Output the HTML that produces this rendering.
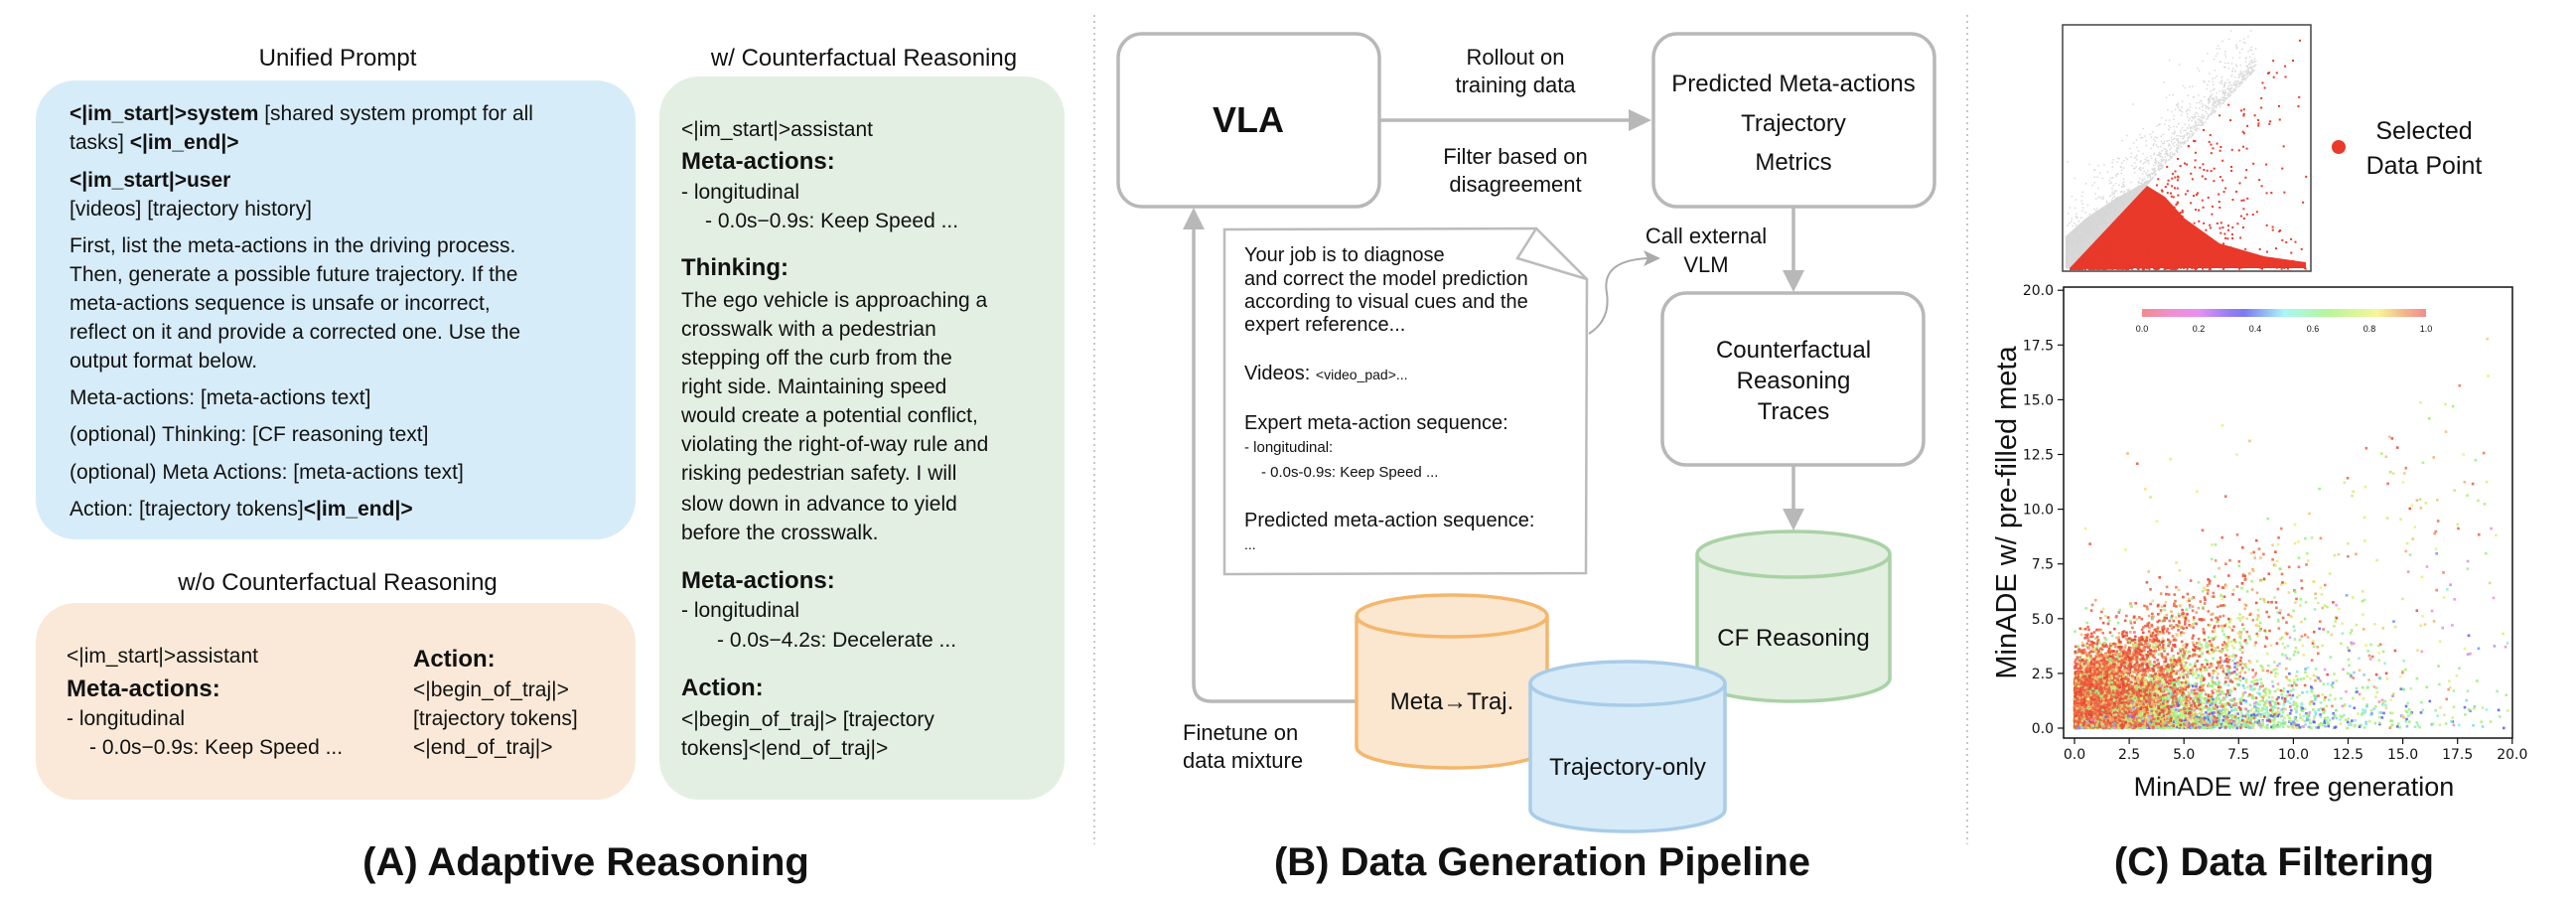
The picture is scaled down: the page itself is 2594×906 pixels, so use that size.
<!DOCTYPE html>
<html><head><meta charset="utf-8"><style>
html,body{margin:0;padding:0;background:#fff;width:2594px;height:906px;overflow:hidden}
svg{display:block}
text{font-family:"Liberation Sans",sans-serif;fill:#111}
.a{font-size:21px}
.b{font-weight:bold}
.h{font-size:24px;font-weight:bold}
.t{font-size:22px}
.d{font-size:20px}
.tk{font-family:"DejaVu Sans",sans-serif;font-size:14px}
</style></head><body>
<svg id="s" width="2594" height="906" viewBox="0 0 2594 906" xmlns="http://www.w3.org/2000/svg">
<defs>
<linearGradient id="cb" x1="0" x2="1">
<stop offset="0" stop-color="#f28c8c"/><stop offset="0.1" stop-color="#f08fcf"/><stop offset="0.2" stop-color="#e690f2"/>
<stop offset="0.3" stop-color="#9a80f4"/><stop offset="0.36" stop-color="#7c78f2"/><stop offset="0.5" stop-color="#a8f6f6"/>
<stop offset="0.65" stop-color="#b6f59a"/><stop offset="0.83" stop-color="#f6f69a"/><stop offset="0.92" stop-color="#f4b88c"/>
<stop offset="1" stop-color="#f28c8c"/></linearGradient>
</defs>

<!-- Panel A -->
<text x="340" y="66" text-anchor="middle" style="font-size:24px">Unified Prompt</text>
<rect x="36" y="81" width="604" height="462" rx="40" fill="#d7ecf9"/>
<g class="a">
<text x="70" y="121"><tspan class="b">&lt;|im_start|&gt;system</tspan> [shared system prompt for all</text>
<text x="70" y="150">tasks] <tspan class="b">&lt;|im_end|&gt;</tspan></text>
<text x="70" y="188" class="b">&lt;|im_start|&gt;user</text>
<text x="70" y="217">[videos] [trajectory history]</text>
<text x="70" y="254">First, list the meta-actions in the driving process.</text>
<text x="70" y="283">Then, generate a possible future trajectory. If the</text>
<text x="70" y="312">meta-actions sequence is unsafe or incorrect,</text>
<text x="70" y="341">reflect on it and provide a corrected one. Use the</text>
<text x="70" y="370">output format below.</text>
<text x="70" y="407">Meta-actions: [meta-actions text]</text>
<text x="70" y="444">(optional) Thinking: [CF reasoning text]</text>
<text x="70" y="482">(optional) Meta Actions: [meta-actions text]</text>
<text x="70" y="519">Action: [trajectory tokens]<tspan class="b">&lt;|im_end|&gt;</tspan></text>
</g>
<text x="340" y="594" text-anchor="middle" style="font-size:24px">w/o Counterfactual Reasoning</text>
<rect x="36" y="607" width="604" height="198" rx="40" fill="#fae9d8"/>
<g class="a">
<text x="67" y="667">&lt;|im_start|&gt;assistant</text>
<text x="67" y="701" class="h">Meta-actions:</text>
<text x="67" y="730">- longitudinal</text>
<text x="90" y="759">- 0.0s−0.9s: Keep Speed ...</text>
<text x="416" y="671" class="h">Action:</text>
<text x="416" y="701">&lt;|begin_of_traj|&gt;</text>
<text x="416" y="730">[trajectory tokens]</text>
<text x="416" y="759">&lt;|end_of_traj|&gt;</text>
</g>
<text x="870" y="66" text-anchor="middle" style="font-size:24px">w/ Counterfactual Reasoning</text>
<rect x="664" y="77" width="408" height="728" rx="40" fill="#e4efe3"/>
<g class="a">
<text x="686" y="137">&lt;|im_start|&gt;assistant</text>
<text x="686" y="170" class="h">Meta-actions:</text>
<text x="686" y="200">- longitudinal</text>
<text x="710" y="229">- 0.0s−0.9s: Keep Speed ...</text>
<text x="686" y="277" class="h">Thinking:</text>
<text x="686" y="309">The ego vehicle is approaching a</text>
<text x="686" y="338">crosswalk with a pedestrian</text>
<text x="686" y="367">stepping off the curb from the</text>
<text x="686" y="396">right side. Maintaining speed</text>
<text x="686" y="425">would create a potential conflict,</text>
<text x="686" y="454">violating the right-of-way rule and</text>
<text x="686" y="483">risking pedestrian safety. I will</text>
<text x="686" y="514">slow down in advance to yield</text>
<text x="686" y="543">before the crosswalk.</text>
<text x="686" y="592" class="h">Meta-actions:</text>
<text x="686" y="621">- longitudinal</text>
<text x="722" y="651">- 0.0s−4.2s: Decelerate ...</text>
<text x="686" y="700" class="h">Action:</text>
<text x="686" y="731">&lt;|begin_of_traj|&gt; [trajectory</text>
<text x="686" y="760">tokens]&lt;|end_of_traj|&gt;</text>
</g>
<text x="590" y="881" text-anchor="middle" style="font-size:40px;font-weight:bold">(A) Adaptive Reasoning</text>

<line x1="1102" y1="15" x2="1102" y2="850" stroke="#c8c8c8" stroke-width="2" stroke-dasharray="2,4"/>
<line x1="1981" y1="15" x2="1981" y2="850" stroke="#c8c8c8" stroke-width="2" stroke-dasharray="2,4"/>

<!-- Panel B -->
<g fill="none" stroke="#b8b8b8" stroke-width="3.5">
<rect x="1126" y="34" width="263" height="174" rx="24" fill="#fff"/>
<rect x="1665" y="34" width="283" height="174" rx="24" fill="#fff"/>
<rect x="1674" y="295" width="263" height="173" rx="24" fill="#fff"/>
<line x1="1389" y1="121" x2="1650" y2="121"/>
<line x1="1806" y1="208" x2="1806" y2="280"/>
<line x1="1806" y1="468" x2="1806" y2="518"/>
<path d="M1366,706 H1220 Q1202,706 1202,688 V225"/>
</g>
<g fill="#b8b8b8">
<polygon points="1663,121 1640,110 1640,132"/>
<polygon points="1806,294 1795,272 1817,272"/>
<polygon points="1806,534 1795,512 1817,512"/>
<polygon points="1202,209 1191,231 1213,231"/>
</g>
<text x="1257" y="133" text-anchor="middle" style="font-size:36px;font-weight:bold">VLA</text>
<g style="font-size:24px" text-anchor="middle">
<text x="1806" y="92">Predicted Meta-actions</text>
<text x="1806" y="132">Trajectory</text>
<text x="1806" y="171">Metrics</text>
<text x="1806" y="360">Counterfactual</text>
<text x="1806" y="391">Reasoning</text>
<text x="1806" y="422">Traces</text>
</g>
<g class="t" text-anchor="middle">
<text x="1526" y="65">Rollout on</text>
<text x="1526" y="93">training data</text>
<text x="1526" y="165">Filter based on</text>
<text x="1526" y="193">disagreement</text>
<text x="1718" y="245">Call external</text>
<text x="1718" y="274">VLM</text>
</g>
<g class="t"><text x="1191" y="745">Finetune on</text><text x="1191" y="773">data mixture</text></g>

<!-- document -->
<path d="M1233,231 L1547,230 L1598,281 L1597,577 L1233,578 Z" fill="#fff" stroke="#bbb" stroke-width="2.5"/>
<path d="M1547,230 L1528,260 L1598,281" fill="none" stroke="#bbb" stroke-width="2.5"/>
<path d="M1600,336 Q1622,322 1618,295 Q1612,262 1660,260" fill="none" stroke="#aaa" stroke-width="2"/>
<polygon points="1672,260 1655,252 1659,260 1655,268" fill="#aaa"/>
<g class="d">
<text x="1253" y="263">Your job is to diagnose</text>
<text x="1253" y="287">and correct the model prediction</text>
<text x="1253" y="310">according to visual cues and the</text>
<text x="1253" y="333">expert reference...</text>
<text x="1253" y="382">Videos: <tspan style="font-size:14px">&lt;video_pad&gt;...</tspan></text>
<text x="1253" y="432">Expert meta-action sequence:</text>
<text x="1253" y="455" style="font-size:15px">- longitudinal:</text>
<text x="1270" y="480" style="font-size:15px">- 0.0s-0.9s: Keep Speed ...</text>
<text x="1253" y="530">Predicted meta-action sequence:</text>
<text x="1253" y="553" style="font-size:14px">...</text>
</g>

<!-- cylinders -->
<g stroke-width="3.5">
<path d="M1709,558 V683 A97,23 0 0 0 1903,683 V558" fill="#e3efe0" stroke="#a9d2a6"/>
<ellipse cx="1806" cy="558" rx="97" ry="23" fill="#e3efe0" stroke="#a9d2a6"/>
<path d="M1366,620 V752 A96,21 0 0 0 1558,752 V620" fill="#fbe6cf" stroke="#f3b76c"/>
<ellipse cx="1462" cy="620" rx="96" ry="21" fill="#fbe6cf" stroke="#f3b76c"/>
<path d="M1541,688 V815 A98,22 0 0 0 1737,815 V688" fill="#d6eaf8" stroke="#a9cce8"/>
<ellipse cx="1639" cy="688" rx="98" ry="22" fill="#d6eaf8" stroke="#a9cce8"/>
</g>
<g style="font-size:24px" text-anchor="middle">
<text x="1806" y="650">CF Reasoning</text>
<text x="1462" y="714">Meta→Traj.</text>
<text x="1639" y="780">Trajectory-only</text>
</g>
<text x="1553" y="881" text-anchor="middle" style="font-size:40px;font-weight:bold">(B) Data Generation Pipeline</text>

<!-- Panel C -->
<rect x="2077" y="25" width="250" height="248" fill="#fff" stroke="#444" stroke-width="1.5"/>
<g id="top"></g>
<circle cx="2355" cy="148" r="7" fill="#e8392b"/>
<g style="font-size:25px" text-anchor="middle"><text x="2441" y="140">Selected</text><text x="2441" y="175">Data Point</text></g>

<g id="main"></g>
<rect x="2078" y="289" width="452" height="454" fill="none" stroke="#111" stroke-width="1.5"/>
<rect x="2157" y="311" width="286" height="8" fill="url(#cb)"/>
<g class="tk" style="font-size:9px" text-anchor="middle" fill="#333">
<text x="2157" y="334">0.0</text><text x="2214" y="334">0.2</text><text x="2271" y="334">0.4</text><text x="2329" y="334">0.6</text><text x="2386" y="334">0.8</text><text x="2443" y="334">1.0</text>
</g>
<g id="ticks"></g>
<text x="2310" y="801" text-anchor="middle" style="font-size:27px">MinADE w/ free generation</text>
<text transform="translate(2030,516) rotate(-90)" text-anchor="middle" style="font-size:29px">MinADE w/ pre-filled meta</text>
<text x="2290" y="881" text-anchor="middle" style="font-size:40px;font-weight:bold">(C) Data Filtering</text>
</svg>
<script>
(function(){
var NS="http://www.w3.org/2000/svg";
var seed=12345;function r(){seed=(seed*1103515245+12345)%2147483648;return seed/2147483648;}
function ex(m){return -Math.log(1-r()*0.9999)*m;}
function el(g,t,a){var e=document.createElementNS(NS,t);for(var k in a)e.setAttribute(k,a[k]);g.appendChild(e);return e;}
var stops=[[0,[242,140,140]],[0.1,[240,143,207]],[0.2,[230,144,242]],[0.3,[154,128,244]],[0.36,[90,90,240]],[0.5,[140,240,240]],[0.62,[150,240,110]],[0.8,[240,240,120]],[0.9,[245,170,110]],[1,[232,60,45]]];
function cm(v){for(var i=1;i<stops.length;i++){if(v<=stops[i][0]){var a=stops[i-1],b=stops[i],t=(v-a[0])/(b[0]-a[0]);return "rgb("+[0,1,2].map(function(j){return Math.round(a[1][j]+(b[1][j]-a[1][j])*t)}).join(",")+")";}}return "rgb(232,60,45)";}
var tk=document.getElementById("ticks");
var labs=["0.0","2.5","5.0","7.5","10.0","12.5","15.0","17.5","20.0"];
for(var i=0;i<9;i++){var y=733-i*55.1,x=2089+i*55.1;
el(tk,"line",{x1:2072,y1:y,x2:2078,y2:y,stroke:"#111","stroke-width":1.2});
var t=el(tk,"text",{x:2068,y:y+5,"text-anchor":"end","class":"tk"});t.textContent=labs[i];
el(tk,"line",{x1:x,y1:743,x2:x,y2:749,stroke:"#111","stroke-width":1.2});
var t2=el(tk,"text",{x:x,y:764,"text-anchor":"middle","class":"tk"});t2.textContent=labs[i];}
var m=document.getElementById("main");
function P(x,y,v,s){if(x<0||y<0||x>20||y>20)return;el(m,"rect",{x:(2089+x*22.05-1.3).toFixed(1),y:(733-y*22.05-1.3).toFixed(1),width:s||2.6,height:s||2.6,fill:cm(v),opacity:0.85});}
// green/blue low band
for(var i=0;i<3400;i++){var x=ex(4.0),y=ex(0.5)*(1+x/12);var v=0.45+r()*0.3;if(r()<0.15)v=0.36;P(x,y,v);}
// mid mixed
for(var i=0;i<1500;i++){var x=1.5+ex(3.0),y=r()*Math.min(x*0.7,6);P(x,y,0.55+r()*0.45);}
// red cluster (diffuse)
for(var i=0;i<5000;i++){var x=ex(2.0);var cap=1.5+x*0.75+ex(0.8);var y=cap*Math.pow(r(),0.9);var v=r()<0.7?0.95+r()*0.05:0.8+r()*0.15;if(r()<0.08)v=0.6;P(x,y,v);}
// diagonal band
for(var i=0;i<110;i++){var x=6+r()*13,y=x*(0.5+r()*0.45);P(x,y,0.6+r()*0.4);}
// sparse
for(var i=0;i<220;i++){var x=r()*20,y=x*r()*0.5;P(x,y,r());}
for(var i=0;i<20;i++){P(r()*8,6+r()*8,0.7+r()*0.3);}
// top plot
var g=document.getElementById("top");
el(g,"polygon",{points:"2080,270 2080,238 2100,220 2130,200 2170,178 2084,270",fill:"#d6d6d6"});
for(var i=0;i<1200;i++){var x=r()*190,y=x*1.06+ex(12)+(r()<0.15?r()*60:0);var px=2081+x,py=270-y;if(py>30&&px<2322)el(g,"rect",{x:px,y:py,width:1.5,height:1.5,fill:"#dadada"});}
el(g,"polygon",{points:"2084,270 2162,187 2180,198 2200,220 2235,245 2280,258 2322,264 2322,270",fill:"#e8392b"});
for(var i=0;i<1200;i++){var x=ex(85),y=x*1.06*Math.pow(r(),1.8);var px=2084+x,py=270-y;if(px<2324&&py>30)el(g,"rect",{x:px,y:py,width:2,height:2,fill:"#e8392b"});}
})();
</script>
</body></html>
